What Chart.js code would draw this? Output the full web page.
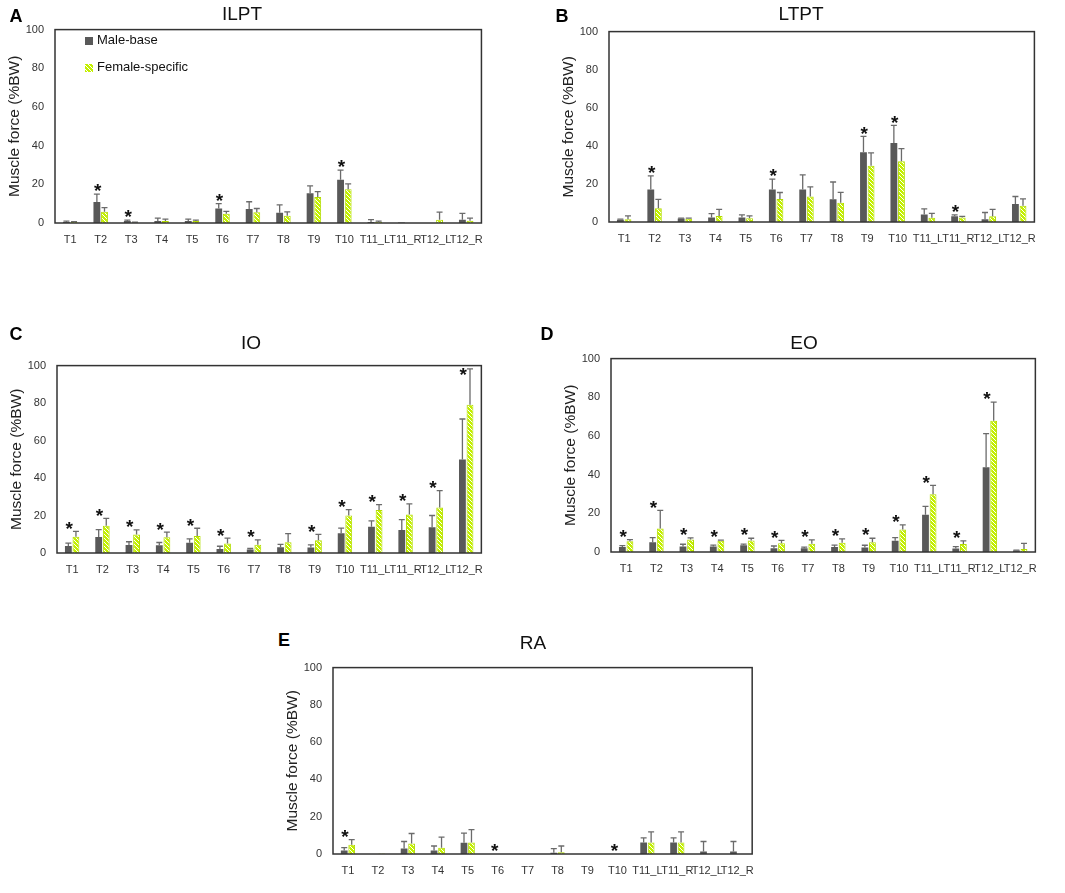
<!DOCTYPE html>
<html>
<head>
<meta charset="utf-8">
<script src="https://cdn.jsdelivr.net/npm/chart.js@4"></script>
<style>
body{margin:0;background:#fff;}
#wrap{position:relative;width:1065px;height:893px;overflow:hidden;font-family:"Liberation Sans",Arial,sans-serif;}
#wrap canvas{position:absolute;}
.ttl{position:absolute;font-size:19px;color:#111;transform:translate(-50%,-50%);line-height:1;white-space:nowrap;}
.lbl{position:absolute;font-size:18px;font-weight:bold;color:#000;transform:translate(-50%,-50%);line-height:1;}
.leg{position:absolute;font-size:13px;color:#111;line-height:1;white-space:nowrap;}
.leg i{display:inline-block;width:8px;height:8px;margin-right:4px;vertical-align:-1px;}
</style>
</head>
<body>
<div id="wrap">
  <canvas id="chartA" width="493" height="239" style="left:0px;top:12px;"></canvas>
  <canvas id="chartB" width="492" height="236" style="left:554px;top:14px;"></canvas>
  <canvas id="chartC" width="491" height="233" style="left:2px;top:348px;"></canvas>
  <canvas id="chartD" width="491" height="239" style="left:556px;top:341px;"></canvas>
  <canvas id="chartE" width="486" height="232" style="left:278px;top:650px;"></canvas>

  <div class="lbl" style="left:16px;top:16px;">A</div>
  <div class="lbl" style="left:562px;top:16px;">B</div>
  <div class="lbl" style="left:16px;top:334px;">C</div>
  <div class="lbl" style="left:547px;top:334px;">D</div>
  <div class="lbl" style="left:284px;top:640px;">E</div>

  <div class="ttl" style="left:242px;top:13px;">ILPT</div>
  <div class="ttl" style="left:801px;top:13px;">LTPT</div>
  <div class="ttl" style="left:251px;top:342px;">IO</div>
  <div class="ttl" style="left:804px;top:342px;">EO</div>
  <div class="ttl" style="left:533px;top:642px;">RA</div>

  <div class="leg" style="left:85px;top:33px;"><i style="background:#595959;"></i>Male-base</div>
  <div class="leg" style="left:85px;top:60px;"><i style="background:repeating-linear-gradient(45deg,#c4f000 0px,#c4f000 1.8px,#ffffff 1.8px,#ffffff 2.8px);"></i>Female-specific</div>
</div>

<script>
// categories / axis
var categories = ['T1','T2','T3','T4','T5','T6','T7','T8','T9','T10','T11_L','T11_R','T12_L','T12_R'];
var yTicks = [0, 20, 40, 60, 80, 100];
var yTitle = 'Muscle force (%BW)';
var seriesNames = ['Male-base', 'Female-specific'];

// ILPT
var ilptMale     = [0.5, 10.8, 1.0, 1.0, 1.0, 7.5, 7.3, 5.3, 15.4, 22.4, 0.5, 0.2, 0, 1.7];
var ilptMaleSd   = [0.5, 4.1, 0.5, 1.5, 1.0, 2.5, 3.7, 4.1, 3.8, 4.9, 1.2, 0, 0, 3.3];
var ilptFemale   = [0.5, 5.8, 0.3, 1.0, 1.0, 4.8, 5.5, 3.8, 13.4, 17.5, 0.5, 0, 1.7, 1.2];
var ilptFemaleSd = [0.2, 2.1, 0.2, 1.0, 0.5, 1.2, 2.0, 2.0, 2.8, 2.7, 0.5, 0, 3.9, 1.3];
var ilptStars    = [0, 1, 1, 0, 0, 1, 0, 0, 0, 1, 0, 0, 0, 0];

// LTPT
var ltptMale     = [1.2, 17.1, 1.8, 2.4, 2.4, 17.1, 17.1, 11.9, 36.6, 41.5, 4.0, 3.0, 1.5, 9.4];
var ltptMaleSd   = [0.3, 7.1, 0.2, 2.0, 1.3, 5.4, 7.6, 9.1, 8.4, 9.3, 2.9, 0.7, 3.5, 4.0];
var ltptFemale   = [1.5, 7.2, 1.7, 3.2, 2.0, 12.1, 13.4, 10.1, 29.6, 31.9, 2.2, 2.4, 3.0, 8.6];
var ltptFemaleSd = [1.7, 4.7, 0.3, 3.4, 1.2, 3.4, 5.1, 5.5, 6.7, 6.6, 2.3, 0.6, 3.6, 3.5];
var ltptStars    = [0, 1, 0, 0, 0, 1, 0, 0, 1, 1, 0, 1, 0, 0];

// IO
var ioMale     = [3.8, 8.5, 4.3, 4.1, 5.5, 2.2, 1.9, 3.1, 2.9, 10.6, 14.0, 12.3, 13.7, 49.9];
var ioMaleSd   = [1.5, 4.0, 1.7, 1.5, 2.0, 1.4, 0.5, 1.5, 1.4, 2.7, 3.1, 5.5, 6.3, 21.6];
var ioFemale   = [8.7, 14.5, 9.9, 8.4, 9.1, 5.1, 4.4, 5.8, 6.8, 20.0, 22.9, 20.5, 24.3, 79.1];
var ioFemaleSd = [2.8, 4.0, 2.4, 2.7, 4.1, 2.8, 2.6, 4.5, 3.1, 3.1, 2.9, 5.7, 9.0, 19.2];
var ioStars    = [1, 1, 1, 1, 1, 1, 1, 0, 1, 1, 1, 1, 1, 1];

// EO
var eoMale     = [2.6, 5.1, 2.8, 2.8, 3.5, 2.0, 2.0, 2.6, 2.3, 5.8, 19.2, 1.8, 43.8, 0.8];
var eoMaleSd   = [0.7, 2.3, 1.2, 0.8, 0.6, 1.1, 0.5, 1.0, 1.2, 1.6, 4.4, 1.0, 17.4, 0.2];
var eoFemale   = [5.5, 12.1, 6.4, 5.8, 6.0, 4.5, 4.3, 4.8, 5.1, 11.6, 29.9, 4.1, 67.9, 1.5];
var eoFemaleSd = [0.9, 9.4, 0.9, 0.3, 1.1, 1.5, 2.0, 2.0, 2.0, 2.4, 4.5, 1.7, 9.6, 3.0];
var eoStars    = [1, 1, 1, 1, 1, 1, 1, 1, 1, 1, 1, 1, 1, 0];

// RA
var raMale     = [1.9, 0, 2.9, 1.9, 6.0, 0, 0, 0.7, 0, 0, 6.2, 6.2, 1.4, 1.4];
var raMaleSd   = [1.5, 0, 3.8, 2.4, 5.2, 0, 0, 2.2, 0, 0, 2.4, 2.4, 5.3, 5.3];
var raFemale   = [5.0, 0.3, 5.7, 3.3, 6.2, 0, 0, 0.9, 0, 0, 6.2, 6.2, 0, 0];
var raFemaleSd = [2.7, 0, 5.3, 5.8, 6.9, 0, 0, 3.4, 0, 0, 5.7, 5.7, 0, 0];
var raStars    = [1, 0, 0, 0, 0, 1, 0, 0, 0, 1, 0, 0, 0, 0];

function makeHatch(){
    var c = document.createElement('canvas');
    c.width = 4; c.height = 4;
    var g = c.getContext('2d');
    g.fillStyle = '#c4f000';
    g.fillRect(0, 0, 4, 4);
    g.strokeStyle = '#ffffff';
    g.lineWidth = 1;
    g.beginPath();
    g.moveTo(-1, -1); g.lineTo(5, 5);
    g.moveTo(-1, 3); g.lineTo(1, 5);
    g.moveTo(3, -1); g.lineTo(5, 1);
    g.stroke();
    return g.createPattern(c, 'repeat');
}

// frame round the plot area
var boxPlugin = {
    id: 'box',
    afterDraw: function(chart){
        var a = chart.chartArea, c = chart.ctx;
        c.save();
        c.strokeStyle = '#333333';
        c.lineWidth = 1.5;
        c.strokeRect(a.left, a.top, a.right - a.left, a.bottom - a.top);
        c.restore();
    }
};

// upper error bars
var errPlugin = {
    id: 'errbars',
    afterDatasetsDraw: function(chart){
        var c = chart.ctx, ys = chart.scales.y;
        c.save();
        c.strokeStyle = '#6b6b6b';
        c.lineWidth = 1.3;
        chart.data.datasets.forEach(function(ds, di){
            var meta = chart.getDatasetMeta(di);
            meta.data.forEach(function(bar, i){
                var sd = ds.sd[i];
                if(!sd) return;
                var yTop = ys.getPixelForValue(ds.data[i] + sd);
                c.beginPath();
                c.moveTo(bar.x, bar.y);
                c.lineTo(bar.x, yTop);
                c.moveTo(bar.x - 3, yTop);
                c.lineTo(bar.x + 3, yTop);
                c.stroke();
            });
        });
        c.restore();
    }
};

// significance asterisks
var starPlugin = {
    id: 'stars',
    afterDatasetsDraw: function(chart){
        var stars = chart.options.plugins.stars.marks;
        var ds = chart.data.datasets;
        var xs = chart.scales.x, ys = chart.scales.y;
        var c = chart.ctx;
        c.save();
        c.fillStyle = '#111';
        c.font = 'bold 19px "Liberation Sans", Arial, sans-serif';
        c.textAlign = 'center';
        c.textBaseline = 'alphabetic';
        stars.forEach(function(s, i){
            if(!s) return;
            var top = Math.max(ds[0].data[i] + ds[0].sd[i], ds[1].data[i] + ds[1].sd[i]);
            var v = Math.min(top + 3.5, 97);
            var x = xs.getPixelForValue(i) - 3;
            var y = ys.getPixelForValue(v);
            c.fillText('*', x, y + 10);
        });
        c.restore();
    }
};

var hatch = makeHatch();

function buildChart(canvasId, male, maleSd, female, femaleSd, stars){
    var ctx = document.getElementById(canvasId).getContext('2d');
    return new Chart(ctx, {
        type: 'bar',
        data: {
            labels: categories,
            datasets: [{
                label: seriesNames[0],
                data: male,
                sd: maleSd,
                backgroundColor: '#595959',
                borderWidth: 0
            },{
                label: seriesNames[1],
                data: female,
                sd: femaleSd,
                backgroundColor: hatch,
                borderColor: '#b2dc00',
                borderWidth: 1
            }]
        },
        options: {
            responsive: false,
            animation: false,
            devicePixelRatio: 1,
            categoryPercentage: 0.5,
            barPercentage: 0.9,
            layout: { padding: { top: 10, right: 8, left: 0, bottom: 0 } },
            plugins: {
                legend: { display: false },
                tooltip: { enabled: false },
                stars: { marks: stars }
            },
            scales: {
                x: {
                    grid: { display: false, drawTicks: false },
                    border: { display: false },
                    ticks: {
                        autoSkip: false, maxRotation: 0, minRotation: 0,
                        padding: 10, color: '#333',
                        font: { family: '"Liberation Sans", Arial, sans-serif', size: 11 }
                    },
                    afterFit: function(s){ s.height = 28; }
                },
                y: {
                    min: yTicks[0],
                    max: yTicks[yTicks.length - 1],
                    grid: { display: false, drawTicks: false },
                    border: { display: false },
                    ticks: {
                        stepSize: yTicks[1] - yTicks[0],
                        padding: 11, color: '#333',
                        font: { family: '"Liberation Sans", Arial, sans-serif', size: 11 }
                    },
                    title: {
                        display: true, text: yTitle, color: '#222',
                        padding: { top: 5, bottom: 0 },
                        font: { family: '"Liberation Sans", Arial, sans-serif', size: 15.5 }
                    },
                    afterFit: function(s){ s.width = 55; }
                }
            }
        },
        plugins: [errPlugin, starPlugin, boxPlugin]
    });
}

buildChart('chartA', ilptMale, ilptMaleSd, ilptFemale, ilptFemaleSd, ilptStars);
buildChart('chartB', ltptMale, ltptMaleSd, ltptFemale, ltptFemaleSd, ltptStars);
buildChart('chartC', ioMale, ioMaleSd, ioFemale, ioFemaleSd, ioStars);
buildChart('chartD', eoMale, eoMaleSd, eoFemale, eoFemaleSd, eoStars);
buildChart('chartE', raMale, raMaleSd, raFemale, raFemaleSd, raStars);
</script>
</body>
</html>
